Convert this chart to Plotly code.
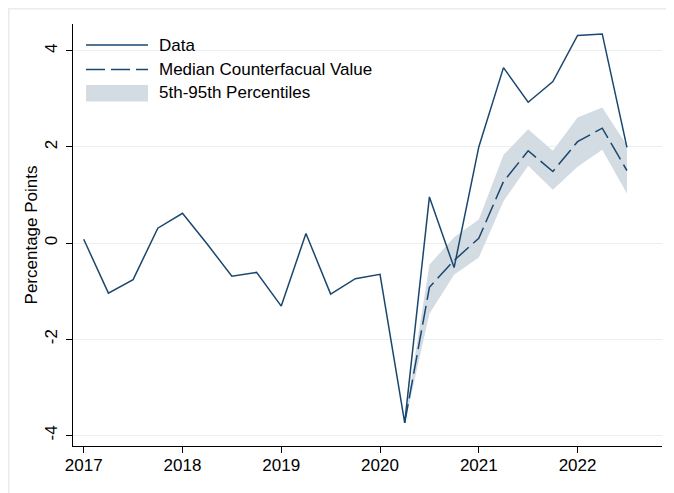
import plotly.graph_objects as go

# quarterly series
quarters = ['2017q1', '2017q2', '2017q3', '2017q4',
            '2018q1', '2018q2', '2018q3', '2018q4',
            '2019q1', '2019q2', '2019q3', '2019q4',
            '2020q1', '2020q2', '2020q3', '2020q4',
            '2021q1', '2021q2', '2021q3', '2021q4',
            '2022q1', '2022q2', '2022q3']
data_vals = [0.08, -1.04, -0.76, 0.31,
             0.62, -0.02, -0.69, -0.61,
             -1.31, 0.20, -1.06, -0.74,
             -0.65, -3.74, 0.96, -0.51,
             2.00, 3.65, 2.93, 3.36,
             4.32, 4.35, 1.99]

# counterfactual starts in 2020q2
cf_quarters = quarters[13:]
median_vals = [-3.74, -0.92, -0.36, 0.10, 1.28, 1.92, 1.49, 2.11, 2.39, 1.51]
p95_vals = [-3.70, -0.45, 0.12, 0.49, 1.83, 2.37, 1.92, 2.61, 2.82, 2.03]
p5_vals = [-3.76, -1.47, -0.66, -0.30, 0.87, 1.61, 1.11, 1.59, 1.94, 1.03]

year_ticks = [2017, 2018, 2019, 2020, 2021, 2022]
y_ticks = [-4, -2, 0, 2, 4]
y_tick_labels = ['-4', '-2', '0', '2', '4']


def to_year(q):
    return int(q[:4]) + (int(q[-1]) - 1) / 4


x_all = [to_year(q) for q in quarters]
x_cf = [to_year(q) for q in cf_quarters]

navy = '#1a476f'
band = '#d3dbe3'
grid = '#eaf0f2'
font = 'Arial, Liberation Sans, sans-serif'

fig = go.Figure()

# 5th-95th band
fig.add_trace(go.Scatter(x=x_cf, y=p5_vals, mode='lines', line=dict(width=0),
                         showlegend=False, hoverinfo='skip'))
fig.add_trace(go.Scatter(x=x_cf, y=p95_vals, mode='lines', line=dict(width=0),
                         fill='tonexty', fillcolor=band, showlegend=False))

fig.add_trace(go.Scatter(x=x_cf, y=median_vals, mode='lines',
                         line=dict(color=navy, width=1.5, dash='19px,6px'),
                         showlegend=False))
fig.add_trace(go.Scatter(x=x_all, y=data_vals, mode='lines',
                         line=dict(color=navy, width=1.5), showlegend=False))

# page puts the figure 8px in from the corner, so work in shifted pixels
OFF = 8
W, H = 674 - OFF, 493 - OFF
L, R, T, B = 73 - OFF, 662 - OFF, 24 - OFF, 446 - OFF


def px(x):
    return (x - OFF - L) / (R - L)


def py(y):
    return (B - (y - OFF)) / (B - T)


shapes = [
    # outer graph region frame
    dict(type='rect', xref='paper', yref='paper',
         x0=px(8.8), x1=px(700), y0=py(520), y1=py(8.8),
         line=dict(color='#e6edef', width=1.5), layer='below'),
    # custom legend keys
    dict(type='line', xref='paper', yref='paper', x0=px(86), x1=px(148),
         y0=py(45), y1=py(45), line=dict(color=navy, width=1.5)),
    dict(type='line', xref='paper', yref='paper', x0=px(86), x1=px(148),
         y0=py(69.5), y1=py(69.5), line=dict(color=navy, width=1.5, dash='19px,6px')),
    dict(type='rect', xref='paper', yref='paper', x0=px(86), x1=px(148),
         y0=py(101.5), y1=py(85), fillcolor=band, line=dict(width=0)),
]

legend_labels = ['Data', 'Median Counterfacual Value', '5th-95th Percentiles']
legend_y = [45, 69.5, 93]
annotations = [dict(text=t, xref='paper', yref='paper', x=px(157), y=py(yy),
                    xanchor='left', yanchor='middle', showarrow=False,
                    font=dict(size=17, color='black', family=font))
               for t, yy in zip(legend_labels, legend_y)]

fig.update_layout(
    width=W, height=H,
    margin=dict(l=L, r=W - R, t=T, b=H - B),
    paper_bgcolor='white', plot_bgcolor='white',
    font=dict(family=font, size=17, color='black'),
    shapes=shapes, annotations=annotations,
    showlegend=False,
)

fig.update_xaxes(
    range=[2016.8915, 2022.855], tickvals=year_ticks,
    ticktext=[str(y) for y in year_ticks],
    showgrid=False, zeroline=False,
    showline=True, linecolor='black', linewidth=1.3,
    ticks='outside', ticklen=6, tickwidth=1.2, tickcolor='black',
    tickfont=dict(size=17), ticklabelstandoff=-3,
)
fig.update_yaxes(
    range=[-4.22, 4.557], tickvals=y_ticks, ticktext=y_tick_labels,
    tickangle=-90,
    showgrid=True, gridcolor=grid, gridwidth=1, zeroline=False,
    showline=True, linecolor='black', linewidth=1.3,
    ticks='outside', ticklen=6, tickwidth=1.2, tickcolor='black',
    tickfont=dict(size=17), ticklabelstandoff=2,
    title=dict(text='Percentage Points', font=dict(size=17), standoff=0),
)

fig.write_html('out.html')
